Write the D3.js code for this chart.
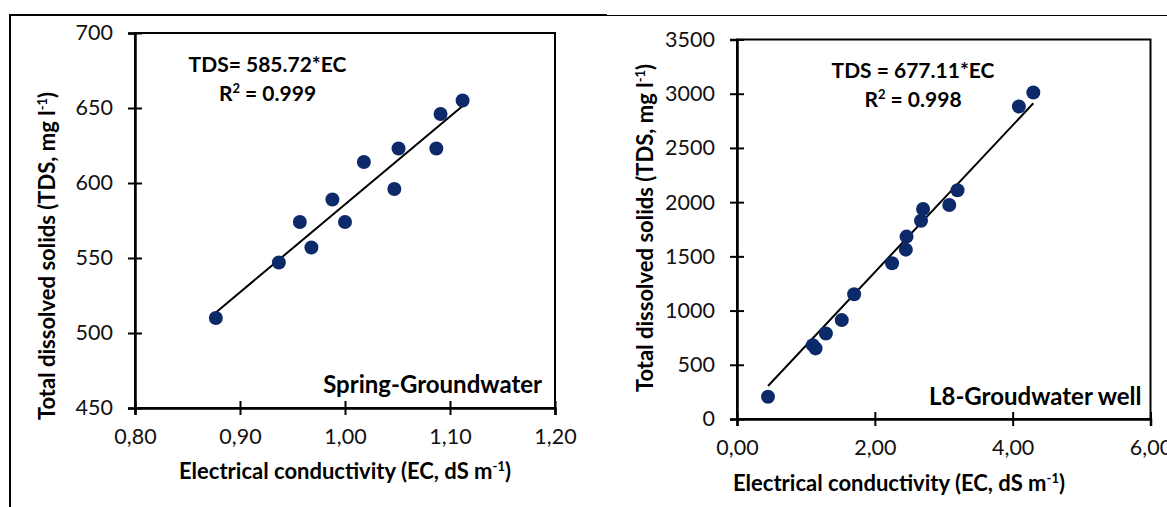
<!DOCTYPE html>
<html>
<head>
<meta charset="utf-8">
<script src="https://cdn.jsdelivr.net/npm/d3@7"></script>
<style>
  body { margin: 0; background: #fff; }
  svg { display: block; font-family: Lato, "Open Sans", sans-serif; }
  .tick text { font-family: Lato, "Open Sans", sans-serif; font-size: 21.5px; fill: #111; }
  .bold { font-weight: bold; fill: #000; }
</style>
</head>
<body>
<div id="chart"></div>
<script>

// Spring-Groundwater panel
var springEC = [0.877, 0.937, 0.957, 0.968, 0.988, 1.000, 1.018, 1.047, 1.051, 1.087, 1.091, 1.112];
var springTDS = [510, 547, 574, 557, 589, 574, 614, 596, 623, 623, 646, 655];
var springSlope = 585.72;
var springXTicks = [0.80, 0.90, 1.00, 1.10, 1.20];
var springYTicks = [450, 500, 550, 600, 650, 700];

// L8 groundwater well panel
var wellEC = [0.45, 1.10, 1.14, 1.29, 1.52, 1.70, 2.25, 2.45, 2.46, 2.67, 2.70, 3.08, 3.20, 4.09, 4.30];
var wellTDS = [205, 681, 651, 789, 912, 1151, 1436, 1562, 1682, 1829, 1937, 1973, 2109, 2882, 3011];
var wellSlope = 677.11;
var wellXTicks = [0, 2, 4, 6];
var wellYTicks = [0, 500, 1000, 1500, 2000, 2500, 3000, 3500];

var width = 1167, height = 507;
var dotColour = "#0c2a6a";

var svg = d3.select("#chart").append("svg")
  .attr("width", width)
  .attr("height", height);

//Outer frame lines from the page
svg.append("line").attr("x1", 10).attr("x2", 607).attr("y1", 15).attr("y2", 15)
  .attr("stroke", "#000").attr("stroke-width", 2);
svg.append("line").attr("x1", 10).attr("x2", 10).attr("y1", 14).attr("y2", height)
  .attr("stroke", "#000").attr("stroke-width", 2);
svg.append("line").attr("x1", 607).attr("x2", width).attr("y1", 15.5).attr("y2", 15.5)
  .attr("stroke", "#000").attr("stroke-width", 1);

var comma = function(d) {
  return d3.format(".2f")(d).replace(".", ",");
};

function drawPanel(p) {

  var x = d3.scaleLinear().domain(p.xDomain).range([p.left, p.right]);
  var y = d3.scaleLinear().domain(p.yDomain).range([p.bottom, p.top]);

  var g = svg.append("g");

  //Plot border
  g.append("rect")
    .attr("x", p.left).attr("y", p.top)
    .attr("width", p.right - p.left).attr("height", p.bottom - p.top)
    .attr("fill", "none").attr("stroke", "#000").attr("stroke-width", 2);

  var yAxis = g.append("g")
    .attr("transform", "translate(" + p.left + ",0)")
    .call(d3.axisLeft(y).tickValues(p.yTicks).tickSize(7).tickPadding(15).tickFormat(d3.format("d")));

  var xAxis = g.append("g")
    .attr("transform", "translate(0," + p.bottom + ")")
    .call(d3.axisBottom(x).tickValues(p.xTicks).tickSize(7).tickPadding(14).tickFormat(comma));

  //Cross ticks like the original
  yAxis.selectAll(".tick line").attr("x1", 7).attr("stroke-width", 2);
  xAxis.selectAll(".tick line").attr("y1", -7).attr("stroke-width", 2);
  g.selectAll(".domain").attr("stroke-width", 2.5);
  yAxis.attr("font-family", null).attr("font-size", null);
  xAxis.attr("font-family", null).attr("font-size", null);

  //Trendline through origin
  var ext = d3.extent(p.ec);
  g.append("line")
    .attr("x1", x(ext[0])).attr("y1", y(ext[0] * p.slope))
    .attr("x2", x(ext[1])).attr("y2", y(ext[1] * p.slope))
    .attr("stroke", "#000").attr("stroke-width", 2);

  g.selectAll("circle.pt")
    .data(p.ec.map(function(d, i) { return [d, p.tds[i]]; }))
    .enter().append("circle")
    .attr("class", "pt")
    .attr("cx", function(d) { return x(d[0]); })
    .attr("cy", function(d) { return y(d[1]); })
    .attr("r", 7)
    .attr("fill", dotColour);

  //Equation and R2
  g.append("text").attr("class", "bold")
    .attr("x", p.eqX).attr("y", p.eqY)
    .attr("text-anchor", "middle").style("font-size", "21px")
    .text(p.equation);

  var r2 = g.append("text").attr("class", "bold")
    .attr("x", p.eqX).attr("y", p.eqY + 29)
    .attr("text-anchor", "middle").style("font-size", "21px");
  r2.append("tspan").text("R");
  r2.append("tspan").attr("dy", -8).style("font-size", "13px").text("2");
  r2.append("tspan").attr("dy", 8).text(" = " + p.r2);

  //Site name
  g.append("text").attr("class", "bold")
    .attr("x", p.right - p.labelInset).attr("y", p.labelY)
    .attr("text-anchor", "end").style("font-size", "24px")
    .text(p.site);

  //Axis titles
  var xt = g.append("text").attr("class", "bold")
    .attr("x", p.xTitleX).attr("y", p.xTitleY)
    .attr("text-anchor", "middle").style("font-size", "22px");
  xt.append("tspan").text("Electrical conductivity (EC, dS m");
  xt.append("tspan").attr("dy", -8).style("font-size", "13px").text("-1");
  xt.append("tspan").attr("dy", 8).text(")");

  var yt = g.append("text").attr("class", "bold")
    .attr("transform", "translate(" + p.yTitleX + "," + p.yTitleY + ") rotate(-90)")
    .attr("text-anchor", "middle").style("font-size", "22px");
  yt.append("tspan").text("Total dissolved solids (TDS, mg l");
  yt.append("tspan").attr("dy", -8).style("font-size", "13px").text("-1");
  yt.append("tspan").attr("dy", 8).text(")");
}

drawPanel({
  ec: springEC, tds: springTDS, slope: springSlope,
  xTicks: springXTicks, yTicks: springYTicks,
  xDomain: [0.8, 1.2], yDomain: [450, 700],
  left: 135, right: 555, top: 33, bottom: 408,
  equation: "TDS= " + springSlope + "*EC", r2: "0.999",
  eqX: 267.5, eqY: 72,
  site: "Spring-Groundwater", labelInset: 13, labelY: 393,
  xTitleX: 345, xTitleY: 479,
  yTitleX: 55, yTitleY: 256
});

drawPanel({
  ec: wellEC, tds: wellTDS, slope: wellSlope,
  xTicks: wellXTicks, yTicks: wellYTicks,
  xDomain: [0, 6], yDomain: [0, 3500],
  left: 737, right: 1150.5, top: 39.5, bottom: 419,
  equation: "TDS = " + wellSlope + "*EC", r2: "0.998",
  eqX: 913, eqY: 78,
  site: "L8-Groudwater well", labelInset: 9, labelY: 405,
  xTitleX: 899, xTitleY: 491,
  yTitleX: 653, yTitleY: 228
});

</script>
</body>
</html>
